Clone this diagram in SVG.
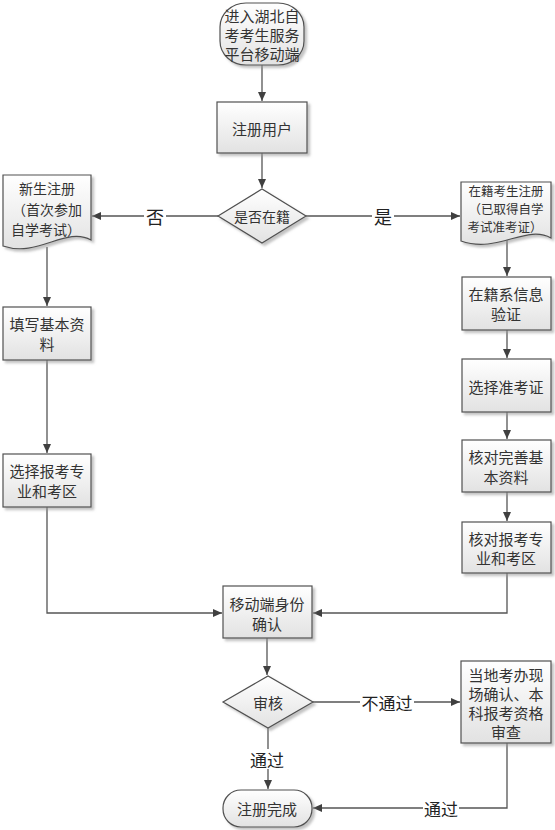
<svg xmlns="http://www.w3.org/2000/svg" width="555" height="830" viewBox="0 0 555 830">
<defs>
<linearGradient id="g" x1="0" y1="0" x2="0" y2="1">
<stop offset="0" stop-color="#ffffff"/>
<stop offset="1" stop-color="#e2e2e2"/>
</linearGradient>
<filter id="sh" x="-10%" y="-10%" width="130%" height="130%">
<feDropShadow dx="2.5" dy="2.5" stdDeviation="0.8" flood-color="#9a9a9a" flood-opacity="0.6"/>
</filter>
<marker id="ah" markerWidth="10" markerHeight="10" refX="9" refY="5" orient="auto" markerUnits="userSpaceOnUse">
<path d="M0,1 L9,5 L0,9 Z" fill="#404040"/>
</marker>
<style>
.n{fill:url(#g);stroke:#505050;stroke-width:1.2;filter:url(#sh)}
.t{font-family:"Noto Sans CJK SC","Liberation Sans",sans-serif;font-size:15px;fill:#333;text-anchor:middle;dominant-baseline:central}
.s{font-size:12.5px}
.l{font-family:"Noto Sans CJK SC","Liberation Sans",sans-serif;font-size:17px;fill:#222;text-anchor:middle;dominant-baseline:central}
.c{fill:none;stroke:#555;stroke-width:1.3;marker-end:url(#ah)}
.bg{fill:#fff}
</style>
</defs>

<g id="connectors">
<path class="c" d="M262,65 V101"/>
<path class="c" d="M262,153 V188"/>
<path class="c" d="M218,216 H92"/>
<path class="c" d="M306,216 H460"/>
<path class="c" d="M47,247 V306"/>
<path class="c" d="M47,360 V453"/>
<path class="c" d="M47,507 V613 H222"/>
<path class="c" d="M507,240 V276"/>
<path class="c" d="M507,330 V358"/>
<path class="c" d="M507,412 V439"/>
<path class="c" d="M507,492 V521"/>
<path class="c" d="M507,573 V613 H313"/>
<path class="c" d="M267,638 V675"/>
<path class="c" d="M313,702 H460"/>
<path class="c" d="M268,728 V789"/>
<path class="c" d="M507,743 V808 H313"/>
<rect class="bg" x="144" y="205" width="22" height="22"/>
<text class="l" x="155" y="216" style="font-size:18px">否</text>
<rect class="bg" x="372" y="205" width="22" height="22"/>
<text class="l" x="383" y="216" style="font-size:18px">是</text>
<rect class="bg" x="360" y="692" width="54" height="20"/>
<text class="l" x="387" y="702">不通过</text>
<rect class="bg" x="249" y="749" width="36" height="20"/>
<text class="l" x="267" y="759">通过</text>
<rect class="bg" x="423" y="798" width="36" height="20"/>
<text class="l" x="441" y="808">通过</text>
</g>

<g id="start">
<rect class="n" x="220" y="3" width="84" height="62" rx="26" ry="24"/>
<text class="t" x="262" y="15">进入湖北自</text>
<text class="t" x="262" y="34">考考生服务</text>
<text class="t" x="262" y="53">平台移动端</text>
</g>

<g id="register">
<rect class="n" x="217" y="102" width="90" height="51"/>
<text class="t" x="262" y="128">注册用户</text>
</g>

<g id="decision1">
<path class="n" d="M218,216 L262,189 L306,216 L262,243 Z"/>
<text class="t" x="262" y="216" style="font-size:14px">是否在籍</text>
</g>

<g id="newStudent">
<path class="n" d="M3,175 H91 V240 C66,226 38,258 3,246 Z"/>
<text class="t" x="47" y="188" style="font-size:14px">新生注册</text>
<text class="t" x="47" y="209" style="font-size:14px">（首次参加</text>
<text class="t" x="46" y="229" style="font-size:14px">自学考试）</text>
</g>

<g id="enrolled">
<path class="n" d="M461,182 H551 V238 C526,224 498,254 461,241 Z"/>
<text class="t s" x="506" y="190">在籍考生注册</text>
<text class="t s" x="506" y="208">（已取得自学</text>
<text class="t s" x="505" y="226">考试准考证）</text>
</g>

<g id="fillInfo">
<rect class="n" x="3" y="307" width="88" height="53"/>
<text class="t" x="47" y="323">填写基本资</text>
<text class="t" x="47" y="343">料</text>
</g>

<g id="chooseMajorL">
<rect class="n" x="3" y="454" width="88" height="53"/>
<text class="t" x="47" y="470">选择报考专</text>
<text class="t" x="47" y="490">业和考区</text>
</g>

<g id="verify">
<rect class="n" x="462" y="277" width="89" height="53"/>
<text class="t" x="506" y="293">在籍系信息</text>
<text class="t" x="506" y="313">验证</text>
</g>

<g id="chooseTicket">
<rect class="n" x="462" y="359" width="89" height="53"/>
<text class="t" x="506" y="386">选择准考证</text>
</g>

<g id="checkInfo">
<rect class="n" x="462" y="440" width="89" height="52"/>
<text class="t" x="506" y="456">核对完善基</text>
<text class="t" x="506" y="476">本资料</text>
</g>

<g id="checkMajor">
<rect class="n" x="462" y="522" width="89" height="51"/>
<text class="t" x="506" y="538">核对报考专</text>
<text class="t" x="506" y="557">业和考区</text>
</g>

<g id="mobileConfirm">
<rect class="n" x="223" y="586" width="89" height="52"/>
<text class="t" x="267" y="603">移动端身份</text>
<text class="t" x="267" y="623">确认</text>
</g>

<g id="review">
<path class="n" d="M223,702 L268,676 L313,702 L268,728 Z"/>
<text class="t" x="268" y="702">审核</text>
</g>

<g id="localOffice">
<rect class="n" x="461" y="661" width="90" height="82"/>
<text class="t" x="506" y="674">当地考办现</text>
<text class="t" x="506" y="693">场确认、本</text>
<text class="t" x="506" y="712">科报考资格</text>
<text class="t" x="506" y="731">审查</text>
</g>

<g id="done">
<rect class="n" x="223" y="790" width="89" height="37" rx="18" ry="18"/>
<text class="t" x="267" y="808">注册完成</text>
</g>
</svg>
